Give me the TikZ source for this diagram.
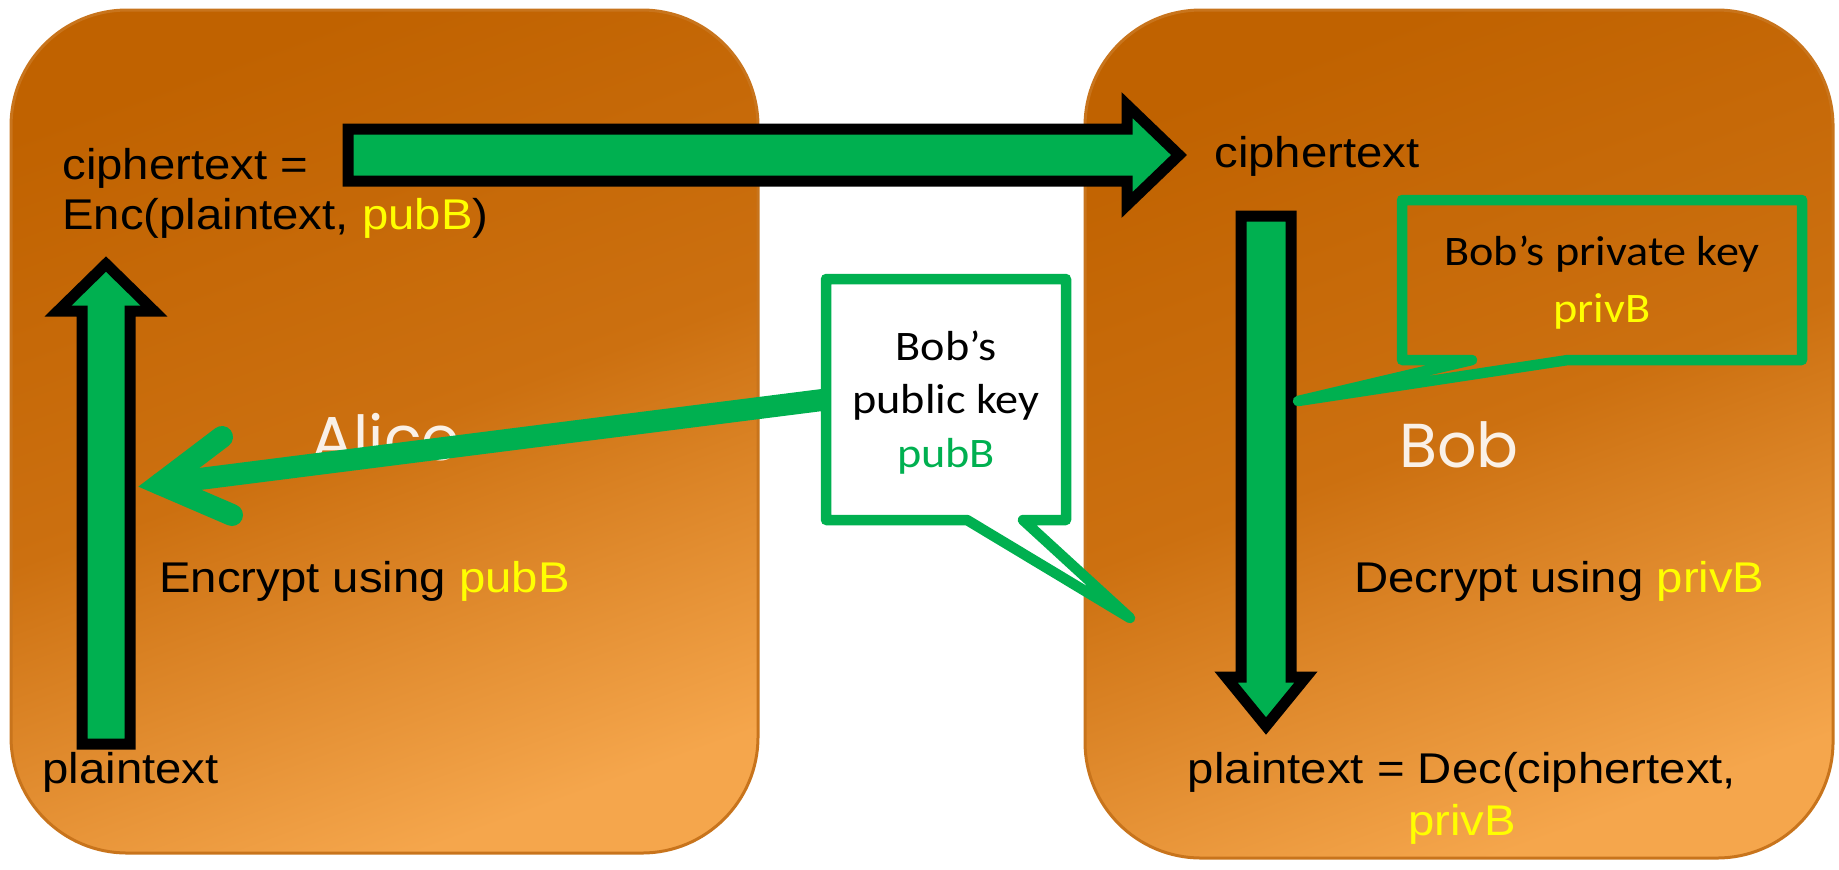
\documentclass[tikz,border=0pt]{standalone}
\usepackage{fontspec}
\setmainfont{Liberation Sans}[FakeStretch=1.1]
\newfontfamily\calfont{Carlito}[FakeStretch=1.1]
\newfontfamily\namefont{Poppins}
\usetikzlibrary{calc}
\definecolor{offgreen}{HTML}{00B050}
\definecolor{keyyellow}{HTML}{FFFF00}
\definecolor{orangetop}{HTML}{C06200}
\definecolor{orangemid}{HTML}{CC7010}
\definecolor{orangebot}{HTML}{F5A64C}
\definecolor{rimcol}{HTML}{C8741C}
\begin{document}
\begin{tikzpicture}[x=0.5pt,y=-0.5pt,
  party/.style={rounded corners=58pt, draw=rimcol, line width=1.5pt,
    top color=orangetop, bottom color=orangebot, middle color=orangemid,
    shading angle=20, inner sep=0pt, outer sep=0pt},
  partyname/.style={font=\namefont\fontsize{31}{31}\selectfont, text=white, text opacity=0.9, inner sep=0pt, anchor=base},
  txt/.style={inner sep=0pt, font=\fontsize{21.5}{25}\selectfont, anchor=base west},
  blockarrow/.style={fill=offgreen, draw=black, line width=5.5pt, line join=miter},
  callframe/.style={draw=offgreen, line width=5.25pt, line join=round},
  callbox/.style={inner sep=0pt, outer sep=0pt, draw=none},
  calltext/.style={inner sep=0pt, anchor=base, align=center},
  pointer/.style={draw=offgreen, line width=11pt, line cap=round}
]
\useasboundingbox (0,0) rectangle (1839,869);

% parties
\node[party, minimum width=373.5pt, minimum height=421.5pt] (alice) at (384.5,431.5) {};
\node[party, minimum width=374pt, minimum height=424pt] (bob) at (1459,434) {};
\node[partyname] (alicename) at (386,460) {Alice};
\node[partyname] (bobname) at (1459,467) {Bob};

% texts (multi-line nodes: base anchor = last line's baseline)
\node[txt, align=left] (aliceenc) at (62,229) {ciphertext =\\Enc(plaintext, \textcolor{keyyellow}{pubB})};
\node[txt] (aliceplain) at (42,783) {plaintext};
\node[txt] (encusing) at (159,592) {Encrypt using \textcolor{keyyellow}{pubB}};
\node[txt] (bobcipher) at (1214,167) {ciphertext};
\node[txt] (decusing) at (1354,592) {Decrypt using \textcolor{keyyellow}{privB}};
\node[txt, anchor=base, align=center, font=\fontsize{21.5}{26}\selectfont] (bobdec) at (1462,835) {plaintext = Dec(ciphertext,\\\textcolor{keyyellow}{privB}};

% block arrows
\draw[blockarrow] (82,744) -- (82,311) -- (58,311) -- (106,264) -- (154,311) -- (130,311) -- (130,744) -- cycle;
\draw[blockarrow] (348,129) -- (1127,129) -- (1127,105) -- (1179,155) -- (1127,205) -- (1127,181) -- (348,181) -- cycle;
\draw[blockarrow] (1241,216) -- (1291,216) -- (1291,677) -- (1306,677) -- (1266,726) -- (1226,677) -- (1241,677) -- cycle;

% public key callout and pointer to Alice
\node[callbox, minimum width=120pt, minimum height=120.5pt] (pubcall) at (946,399.5) {};
\coordinate (pubhead) at (160,484);
\coordinate (pubtip) at (1130,618);
\draw[pointer] (pubcall.west) -- (pubhead);
\draw[pointer, line cap=round, line join=miter] (222,437) -- (pubhead) -- (232,515);
\draw[callframe, fill=white] (pubcall.north west) -- (pubcall.north east) -- (pubcall.south east)
  -- ([xshift=-21.5pt]pubcall.south east) -- (pubtip) -- ([xshift=70.5pt]pubcall.south west)
  -- (pubcall.south west) -- cycle;
\node[calltext, font=\calfont\fontsize{21}{26.75}\selectfont] (pubtext) at (946,467) {Bob’s\\public key\\\textcolor{offgreen}{pubB}};

% private key callout
\node[callbox, minimum width=200pt, minimum height=80pt] (privcall) at (1602,280) {};
\coordinate (privtip) at (1298,401);
\draw[callframe] (privcall.north west) -- (privcall.north east) -- (privcall.south east)
  -- ([xshift=-117pt]privcall.south east) -- (privtip) -- ([xshift=35pt]privcall.south west)
  -- (privcall.south west) -- cycle;
\node[calltext, font=\calfont\fontsize{21}{28.5}\selectfont] (privtext) at (1602,322) {Bob’s private key\\\textcolor{keyyellow}{privB}};
\end{tikzpicture}
\end{document}
